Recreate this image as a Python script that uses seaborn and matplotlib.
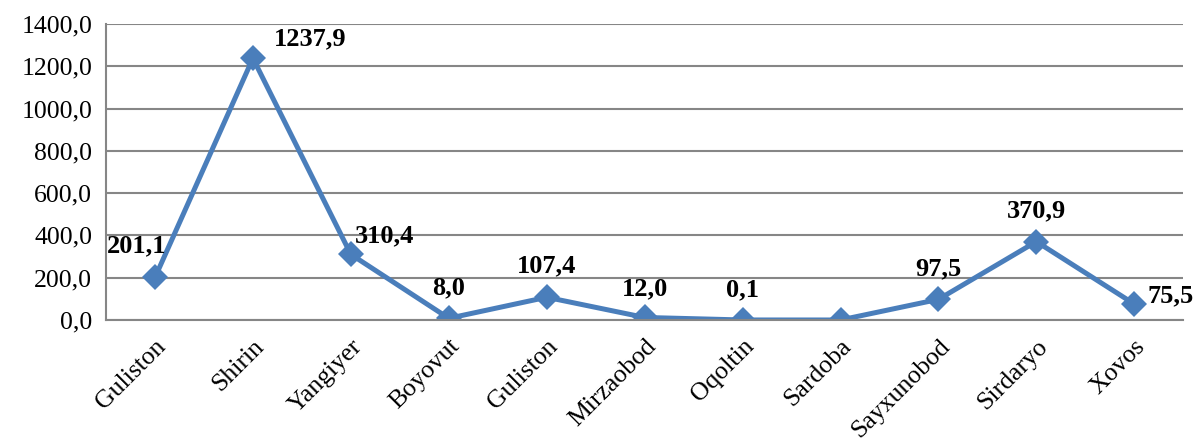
import matplotlib.pyplot as plt
import seaborn as sns
import numpy as np
import pandas as pd

# Données
districts = ['Guliston', 'Shirin', 'Yangiyer', 'Boyovut', 'Guliston', 'Mirzaobod',
             'Oqoltin', 'Sardoba', 'Sayxunobod', 'Sirdaryo', 'Xovos']
values = [201.1, 1237.9, 310.4, 8.0, 107.4, 12.0, 0.1, 0.0, 97.5, 370.9, 75.5]
labels = ['201,1', '1237,9', '310,4', '8,0', '107,4', '12,0', '0,1', '', '97,5', '370,9', '75,5']
# décalage des étiquettes (pixels)
offsets = [(-18, 32), (57, 19), (34, 19), (0, 30), (0, 31), (0, 29), (0, 30),
           (0, 30), (0, 31), (0, 31), (36, 8)]

df = pd.DataFrame({'pos': np.arange(len(districts)), 'value': values})

sns.set_style('white')
plt.rcParams['font.family'] = ['Liberation Serif', 'DejaVu Serif']
plt.rcParams['text.color'] = 'black'
plt.rcParams['xtick.labelcolor'] = 'black'
plt.rcParams['ytick.labelcolor'] = 'black'

fig = plt.figure(figsize=(11.94, 4.41), dpi=100)
ax = fig.add_axes([0.0888, 0.2744, 0.9022, 0.6712])

color = '#4a7ebb'
sns.lineplot(data=df, x='pos', y='value', ax=ax, color=color, linewidth=3.6,
             marker='D', markersize=13, markeredgewidth=0, sort=False, estimator=None)

for i, (v, lab) in enumerate(zip(values, labels)):
    if lab:
        ax.annotate(lab, (i, v), xytext=offsets[i], textcoords='offset pixels',
                    ha='center', va='center', fontsize=19, fontweight='bold', color='black')

ax.set_xlim(-0.5, len(districts) - 0.5)
ax.set_ylim(0, 1400)
ax.set_yticks(np.arange(0, 1401, 200))
ax.set_yticklabels([f'{t:.1f}'.replace('.', ',') for t in np.arange(0, 1401, 200)])
ax.set_xticks(np.arange(len(districts)))
ax.set_xticklabels(districts, rotation=45, ha='right', rotation_mode='anchor')
ax.set_xticks(np.arange(-0.5, len(districts)), minor=True)
ax.tick_params(axis='x', which='major', length=0, labelsize=18.5, pad=11)
ax.tick_params(axis='x', which='minor', length=7, width=1.5, color='#868686', direction='out')
ax.tick_params(axis='y', length=7, width=1.5, color='#868686', labelsize=18.5, pad=3)
ax.yaxis.grid(True, color='#868686', linewidth=1.5)
ax.set_axisbelow(True)
ax.set_xlabel('')
ax.set_ylabel('')

for s in ['top', 'right']:
    ax.spines[s].set_visible(False)
for s in ['left', 'bottom']:
    ax.spines[s].set_color('#868686')
    ax.spines[s].set_linewidth(1.5)

fig.savefig('out.png', dpi=100)
